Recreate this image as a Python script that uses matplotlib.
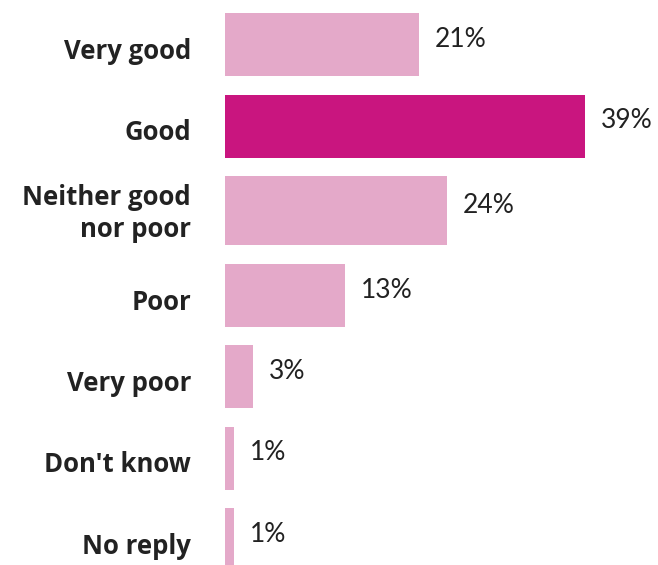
import matplotlib.pyplot as plt
from matplotlib.transforms import offset_copy

# Survey answers and shares (%)
categories = ["Very good", "Good", "Neither good\nnor poor", "Poor",
              "Very poor", "Don't know", "No reply"]
shares = [21, 39, 24, 13, 3, 1, 1]
highlight = "Good"

light = "#e4a9c9"
strong = "#c9157f"
ink = "#222222"

fig = plt.figure(figsize=(6.58, 5.65), dpi=100)
# axes spans the full height; y runs in pixels from the top
ax = fig.add_axes([225 / 658, 0, 1 - 225 / 658, 1])
ax.set_xlim(0, (658 - 225) / (360 / 39))
ax.set_ylim(565, 0)
ax.axis("off")

# row layout: two-line rows get a slightly taller bar
top = 13
centers, heights = [], []
for cat in categories:
    h = 69 if "\n" in cat else 63
    centers.append(top + h / 2)
    heights.append(h)
    top += h + 18.5

colors = [strong if c == highlight else light for c in categories]
ax.barh(centers, shares, height=heights, color=colors, left=0)

val_tr = offset_copy(ax.transData, fig=fig, x=16, y=5, units="dots")

for cat, val, y in zip(categories, shares, centers):
    dy = -3 if "\n" in cat else -7
    lab_tr = offset_copy(ax.transData, fig=fig, x=-34, y=dy, units="dots")
    ax.text(0, y, cat, transform=lab_tr, ha="right", va="center",
            fontsize=18.5, fontweight="bold", color=ink, family="Open Sans",
            linespacing=1.2, clip_on=False)
    ax.text(val, y, f"{val}%", transform=val_tr, ha="left", va="center",
            fontsize=19, color=ink, family="Lato", clip_on=False)

fig.savefig("out.png", dpi=100)
